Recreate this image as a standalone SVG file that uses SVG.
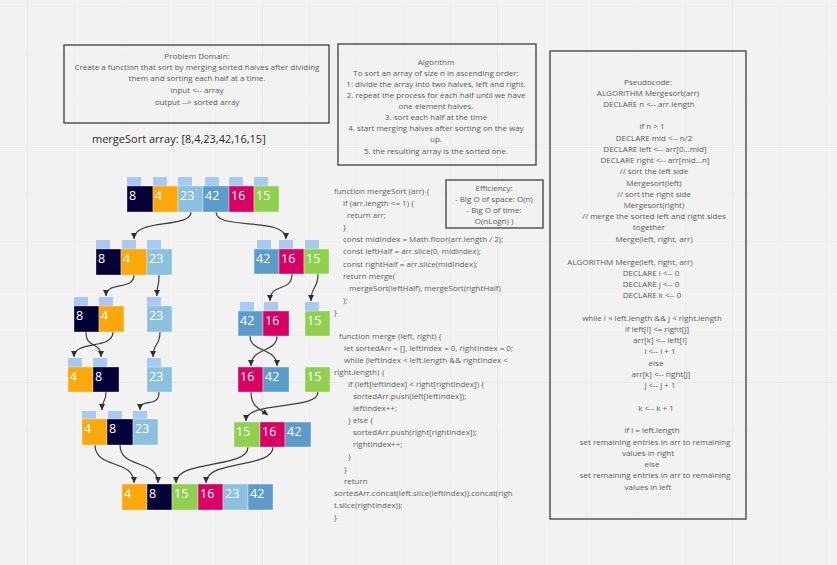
<svg xmlns="http://www.w3.org/2000/svg" width="837" height="565" viewBox="0 0 837 565">
<style>
.t{font-family:"Open Sans","Liberation Sans",sans-serif;font-size:8px;fill:#5a5a5a}
.m{text-anchor:middle}
.c{font-family:"Open Sans","Liberation Sans",sans-serif;font-size:8px;fill:#5f5f5f}
.frame{fill:none;stroke:#4a4a4a;stroke-width:1.4}
.tab{fill:#a7c9f2}
.n{font-family:"Open Sans","Liberation Sans",sans-serif;font-size:12.5px;fill:#ffffff}
.b8{fill:#050038}.b4{fill:#fca70a}.b23{fill:#8bc0de}.b42{fill:#5c9ccb}.b16{fill:#da0063}.b15{fill:#8fd14f}
.cell{stroke:#ffffff;stroke-opacity:0.35;stroke-width:1}
.con{fill:none;stroke:#3c3c3c;stroke-width:1.2;marker-end:url(#ah)}
</style>
<defs>
<pattern id="minor" width="47" height="47" patternUnits="userSpaceOnUse" x="27" y="6">
<path d="M0,0 H47 M0,0 V47" fill="none" stroke="#ebebeb" stroke-width="1"/>
</pattern>
<pattern id="major" width="235" height="235" patternUnits="userSpaceOnUse" x="27" y="147">
<path d="M0,0 H235 M0,0 V235" fill="none" stroke="#e4e4e4" stroke-width="1"/>
</pattern>
<marker id="ah" viewBox="0 0 6 6" refX="6" refY="3" markerWidth="6" markerHeight="6" markerUnits="userSpaceOnUse" orient="auto">
<path d="M0,0 L6,3 L0,6 z" fill="#2e2e2e"/>
</marker>
</defs>
<rect width="837" height="565" fill="#f2f2f2"/>
<rect width="837" height="565" fill="url(#minor)"/>
<rect width="837" height="565" fill="url(#major)"/>

<g id="problem-domain">
<rect class="frame" x="64" y="45" width="265" height="78"/>
<text class="t m" x="197" y="59">Problem Domain:</text>
<text class="t m" x="197" y="70">Create a function that sort by merging sorted halves after dividing</text>
<text class="t m" x="197" y="81">them and sorting each half at a time.</text>
<text class="t m" x="197" y="93">input &lt;-- array</text>
<text class="t m" x="197" y="105">output --&gt; sorted array</text>
</g>

<g id="algorithm">
<rect class="frame" x="338" y="44" width="198" height="121"/>
<text class="t m" x="436" y="65">Algorithm</text>
<text class="t m" x="436" y="76">To sort an array of size n in ascending order:</text>
<text class="t m" x="436" y="87">1: divide the array into two halves, left and right.</text>
<text class="t m" x="436" y="98">2. repeat the process for each half until we have</text>
<text class="t m" x="436" y="109">one element halves.</text>
<text class="t m" x="436" y="120">3. sort each half at the time</text>
<text class="t m" x="436" y="131">4. start merging halves after sorting on the way</text>
<text class="t m" x="436" y="142">up.</text>
<text class="t m" x="436" y="154">5. the resulting array is the sorted one.</text>
</g>

<g id="pseudocode">
<rect class="frame" x="550" y="51" width="196" height="468"/>
<text class="t m" x="648" y="85">Pseudocode:</text>
<text class="t m" x="648" y="96">ALGORITHM Mergesort(arr)</text>
<text class="t m" x="649" y="107">DECLARE n &lt;-- arr.length</text>
<text class="t m" x="652" y="129">if n &gt; 1</text>
<text class="t m" x="654" y="141">DECLARE mid &lt;-- n/2</text>
<text class="t m" x="655" y="152">DECLARE left &lt;-- arr[0…mid]</text>
<text class="t m" x="655" y="163">DECLARE right &lt;-- arr[mid…n]</text>
<text class="t m" x="654" y="174">// sort the left side</text>
<text class="t m" x="654" y="186">Mergesort(left)</text>
<text class="t m" x="654" y="197">// sort the right side</text>
<text class="t m" x="654" y="208">Mergesort(right)</text>
<text class="t m" x="654" y="219">// merge the sorted left and right sides</text>
<text class="t m" x="649" y="230">together</text>
<text class="t m" x="654" y="242">Merge(left, right, arr)</text>
<text class="t m" x="630" y="265">ALGORITHM Merge(left, right, arr)</text>
<text class="t m" x="651" y="276">DECLARE i &lt;-- 0</text>
<text class="t m" x="651" y="287">DECLARE j &lt;-- 0</text>
<text class="t m" x="652" y="298">DECLARE k &lt;-- 0</text>
<text class="t m" x="652" y="321">while i &lt; left.length &amp;&amp; j &lt; right.length</text>
<text class="t m" x="657" y="332">if left[i] &lt;= right[j]</text>
<text class="t m" x="660" y="343">arr[k] &lt;-- left[i]</text>
<text class="t m" x="660" y="354">i &lt;-- i + 1</text>
<text class="t m" x="656" y="366">else</text>
<text class="t m" x="661" y="377">arr[k] &lt;-- right[j]</text>
<text class="t m" x="660" y="388">j &lt;-- j + 1</text>
<text class="t m" x="656" y="411">k &lt;-- k + 1</text>
<text class="t m" x="652" y="433">if i = left.length</text>
<text class="t m" x="655" y="445">set remaining entries in arr to remaining</text>
<text class="t m" x="648" y="456">values in right</text>
<text class="t m" x="652" y="467">else</text>
<text class="t m" x="655" y="478">set remaining entries in arr to remaining</text>
<text class="t m" x="648" y="490">values in left</text>
</g>

<g id="efficiency">
<rect class="frame" x="446" y="180" width="97" height="48" stroke="#3a3a3a"/>
<text class="t m" x="494" y="191" fill="#333">Efficiency:</text>
<text class="t m" x="494" y="202" fill="#333">- Big O of space: O(n)</text>
<text class="t m" x="494" y="213" fill="#333">- Big O of time:</text>
<text class="t m" x="494" y="224" fill="#333">O(nLogn) )</text>
</g>

<g id="code-mergesort">
<text class="c" x="334" y="194">function mergeSort (arr) {</text>
<text class="c" x="343" y="206">if (arr.length &lt;= 1) {</text>
<text class="c" x="347" y="218">return arr;</text>
<text class="c" x="343" y="230">}</text>
<text class="c" x="343" y="242">const midIndex = Math.floor(arr.length / 2);</text>
<text class="c" x="343" y="254">const leftHalf = arr.slice(0, midIndex);</text>
<text class="c" x="343" y="267">const rightHalf = arr.slice(midIndex);</text>
<text class="c" x="343" y="279">return merge(</text>
<text class="c" x="349" y="291">mergeSort(leftHalf), mergeSort(rightHalf)</text>
<text class="c" x="343" y="303">);</text>
<text class="c" x="334" y="315">}</text>
</g>

<g id="code-merge">
<text class="c" x="339" y="339">function merge (left, right) {</text>
<text class="c" x="344" y="351">let sortedArr = [], leftIndex = 0, rightIndex = 0;</text>
<text class="c" x="344" y="363">while (leftIndex &lt; left.length &amp;&amp; rightIndex &lt;</text>
<text class="c" x="334" y="375">right.length) {</text>
<text class="c" x="348" y="387">if (left[leftIndex] &lt; right[rightIndex]) {</text>
<text class="c" x="353" y="399">sortedArr.push(left[leftIndex]);</text>
<text class="c" x="353" y="411">leftIndex++;</text>
<text class="c" x="348" y="423">} else {</text>
<text class="c" x="353" y="435">sortedArr.push(right[rightIndex]);</text>
<text class="c" x="353" y="447">rightIndex++;</text>
<text class="c" x="348" y="459">}</text>
<text class="c" x="344" y="472">}</text>
<text class="c" x="344" y="484">return</text>
<text class="c" x="334" y="496">sortedArr.concat(left.slice(leftIndex)).concat(righ</text>
<text class="c" x="334" y="508">t.slice(rightIndex));</text>
<text class="c" x="334" y="520">}</text>
</g>

<g id="title">
<text x="92" y="143" font-family="'Open Sans','Liberation Sans',sans-serif" font-size="11" fill="#2a2a2a">mergeSort array: [8,4,23,42,16,15]</text>
</g>

<g id="connectors">
<path class="con" d="M191,212 C191,229 134,218 134,239"/>
<path class="con" d="M216,212 C216,231 286,216 286,239"/>
<path class="con" d="M134,275 C134,291 106,281 106,296"/>
<path class="con" d="M159,275 C159,289 157,282 157,296"/>
<path class="con" d="M292,274 C292,293 270,282 270,301"/>
<path class="con" d="M318,274 C318,290 311,285 311,301"/>
<path class="con" d="M86,332 C86,350 101,340 101,357"/>
<path class="con" d="M113,332 C113,350 74,340 74,357"/>
<path class="con" d="M160,332 C160,347 153,342 153,357"/>
<path class="con" d="M250,336 C250,353 277,347 277,366"/>
<path class="con" d="M277,336 C277,353 251,347 251,366"/>
<path class="con" d="M106,392 C106,403 102,399 102,410"/>
<path class="con" d="M159,392 C159,409 140,397 140,410"/>
<path class="con" d="M251,392 C251,406 258,408 268,415"/>
<path class="con" d="M318,392 C318,411 246,400 246,421"/>
<path class="con" d="M95,445 C95,469 134,459 134,483"/>
<path class="con" d="M120,445 C120,469 158,459 158,483"/>
<path class="con" d="M248,447 C248,469 176,459 176,483"/>
<path class="con" d="M273,447 C273,469 206,459 206,483"/>
</g>

<g id="row1">
<rect class="tab" x="127" y="177" width="14" height="9"/><rect class="tab" x="153" y="177" width="14" height="9"/><rect class="tab" x="178" y="177" width="14" height="9"/><rect class="tab" x="205" y="177" width="14" height="9"/><rect class="tab" x="229" y="177" width="14" height="9"/><rect class="tab" x="254" y="177" width="14" height="9"/>
<rect class="cell b8" x="127" y="186" width="26" height="26"/><rect class="cell b4" x="153" y="186" width="25" height="26"/><rect class="cell b23" x="178" y="186" width="25" height="26"/><rect class="cell b42" x="203" y="186" width="26" height="26"/><rect class="cell b16" x="229" y="186" width="25" height="26"/><rect class="cell b15" x="254" y="186" width="25" height="26"/>
<text class="n" x="129" y="200">8</text><text class="n" x="155" y="200">4</text><text class="n" x="180" y="200">23</text><text class="n" x="205" y="200">42</text><text class="n" x="231" y="200">16</text><text class="n" x="256" y="200">15</text>
</g>

<g id="row2-left">
<rect class="tab" x="96" y="240" width="14" height="9"/><rect class="tab" x="122" y="240" width="14" height="9"/><rect class="tab" x="147" y="240" width="14" height="9"/>
<rect class="cell b8" x="96" y="249" width="25" height="26"/><rect class="cell b4" x="121" y="249" width="26" height="26"/><rect class="cell b23" x="147" y="249" width="25" height="26"/>
<text class="n" x="98" y="263">8</text><text class="n" x="123" y="263">4</text><text class="n" x="149" y="263">23</text>
</g>

<g id="row2-right">
<rect class="tab" x="257" y="240" width="14" height="9"/><rect class="tab" x="279" y="240" width="14" height="9"/><rect class="tab" x="305" y="240" width="14" height="9"/>
<rect class="cell b42" x="254" y="249" width="25" height="25"/><rect class="cell b16" x="279" y="249" width="25" height="25"/><rect class="cell b15" x="304" y="249" width="25" height="25"/>
<text class="n" x="256" y="263">42</text><text class="n" x="281" y="263">16</text><text class="n" x="306" y="263">15</text>
</g>

<g id="row3-84">
<rect class="tab" x="74" y="297" width="14" height="9"/><rect class="tab" x="99" y="297" width="14" height="9"/>
<rect class="cell b8" x="74" y="306" width="25" height="26"/><rect class="cell b4" x="99" y="306" width="25" height="26"/>
<text class="n" x="76" y="320">8</text><text class="n" x="101" y="320">4</text>
</g>

<g id="row3-23">
<rect class="tab" x="147" y="297" width="14" height="9"/>
<rect class="cell b23" x="147" y="306" width="25" height="26"/>
<text class="n" x="149" y="320">23</text>
</g>

<g id="row3-4216">
<rect class="tab" x="240" y="302" width="14" height="9"/><rect class="tab" x="264" y="302" width="14" height="9"/>
<rect class="cell b42" x="238" y="311" width="25" height="25"/><rect class="cell b16" x="263" y="311" width="26" height="25"/>
<text class="n" x="240" y="325">42</text><text class="n" x="265" y="325">16</text>
</g>

<g id="row3-15">
<rect class="tab" x="305" y="302" width="14" height="9"/>
<rect class="cell b15" x="305" y="311" width="25" height="25"/>
<text class="n" x="307" y="325">15</text>
</g>

<g id="row4-48">
<rect class="tab" x="68" y="358" width="14" height="9"/><rect class="tab" x="93" y="358" width="14" height="9"/>
<rect class="cell b4" x="68" y="367" width="25" height="25"/><rect class="cell b8" x="93" y="367" width="26" height="25"/>
<text class="n" x="70" y="381">4</text><text class="n" x="95" y="381">8</text>
</g>

<g id="row4-23">
<rect class="tab" x="147" y="358" width="14" height="9"/>
<rect class="cell b23" x="147" y="367" width="25" height="25"/>
<text class="n" x="149" y="381">23</text>
</g>

<g id="row4-1642">
<rect class="cell b16" x="238" y="367" width="25" height="25"/><rect class="cell b42" x="263" y="367" width="26" height="25"/>
<text class="n" x="240" y="381">16</text><text class="n" x="265" y="381">42</text>
</g>

<g id="row4-15">
<rect class="cell b15" x="305" y="367" width="25" height="25"/>
<text class="n" x="307" y="381">15</text>
</g>

<g id="row5-left">
<rect class="tab" x="82" y="411" width="14" height="8"/><rect class="tab" x="108" y="411" width="14" height="8"/><rect class="tab" x="133" y="411" width="14" height="8"/>
<rect class="cell b4" x="82" y="419" width="25" height="26"/><rect class="cell b8" x="107" y="419" width="26" height="26"/><rect class="cell b23" x="133" y="419" width="25" height="26"/>
<text class="n" x="84" y="433">4</text><text class="n" x="109" y="433">8</text><text class="n" x="135" y="433">23</text>
</g>

<g id="row5-right">
<rect class="cell b15" x="234" y="422" width="26" height="25"/><rect class="cell b16" x="260" y="422" width="25" height="25"/><rect class="cell b42" x="285" y="422" width="26" height="25"/>
<text class="n" x="236" y="436">15</text><text class="n" x="262" y="436">16</text><text class="n" x="287" y="436">42</text>
</g>

<g id="row6">
<rect class="cell b4" x="122" y="484" width="25" height="26"/><rect class="cell b8" x="147" y="484" width="25" height="26"/><rect class="cell b15" x="172" y="484" width="26" height="26"/><rect class="cell b16" x="198" y="484" width="25" height="26"/><rect class="cell b23" x="223" y="484" width="25" height="26"/><rect class="cell b42" x="248" y="484" width="25" height="26"/>
<text class="n" x="124" y="498">4</text><text class="n" x="149" y="498">8</text><text class="n" x="174" y="498">15</text><text class="n" x="200" y="498">16</text><text class="n" x="225" y="498">23</text><text class="n" x="250" y="498">42</text>
</g>
</svg>
